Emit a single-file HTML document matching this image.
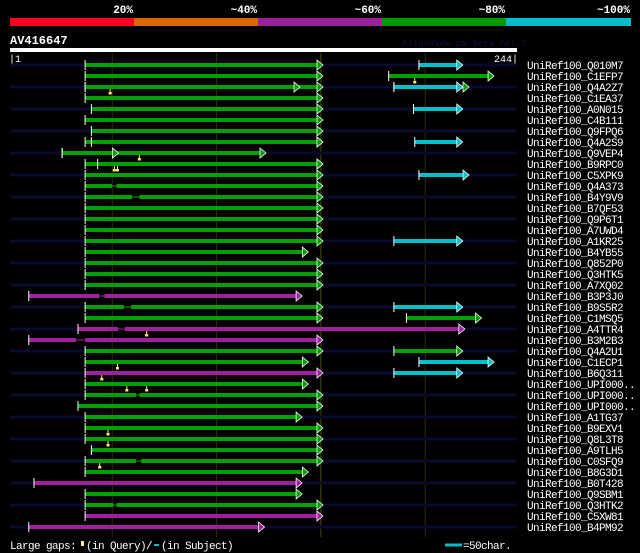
<!DOCTYPE html>
<html><head><meta charset="utf-8"><style>
html,body{margin:0;padding:0;background:#000;width:640px;height:553px;overflow:hidden}
svg{display:block}
text{font-family:"Liberation Mono","DejaVu Sans Mono",monospace}
.lab{letter-spacing:-0.6px}
</style></head><body>
<svg id="chart" width="640" height="553" viewBox="0 0 640 553" xmlns="http://www.w3.org/2000/svg">
<g>
<rect x="10" y="18" width="124" height="8" fill="#ff0022"/>
<rect x="134" y="18" width="124" height="8" fill="#dd6600"/>
<rect x="258" y="18" width="124" height="8" fill="#992299"/>
<rect x="382" y="18" width="124" height="8" fill="#009900"/>
<rect x="506" y="18" width="125" height="8" fill="#00bbcc"/>
<text x="133" y="13" fill="#fff" font-size="11" font-weight="bold" text-anchor="end">20%</text>
<text x="257" y="13" fill="#fff" font-size="11" font-weight="bold" text-anchor="end">~40%</text>
<text x="381" y="13" fill="#fff" font-size="11" font-weight="bold" text-anchor="end">~60%</text>
<text x="505" y="13" fill="#fff" font-size="11" font-weight="bold" text-anchor="end">~80%</text>
<text x="630" y="13" fill="#fff" font-size="11" font-weight="bold" text-anchor="end">~100%</text>
</g>
<text x="10" y="44" fill="#fff" font-size="12" font-weight="bold">AV416647</text>
<text x="402" y="46" fill="#101040" font-size="9">AlignView.pm Beta rel.7</text>
<rect x="10" y="48" width="507" height="4" fill="#fff"/>
<text x="9" y="62" fill="#fff" font-size="10">|1</text>
<text x="518" y="62" fill="#fff" font-size="10" text-anchor="end">244|</text>
<g id="grid"></g><g id="rows"></g>
<g>
<text x="10" y="549" fill="#fff" font-size="11" class="lab">Large gaps:</text>
<rect x="81" y="541" width="3" height="5" fill="#ffee66"/>
<text x="86" y="549" fill="#fff" font-size="11" class="lab">(in Query)/</text>
<line x1="154" y1="545" x2="159" y2="545" stroke="#00bbcc" stroke-width="2"/>
<text x="161" y="549" fill="#fff" font-size="11" class="lab">(in Subject)</text>
<line x1="445" y1="545" x2="462" y2="545" stroke="#00bbcc" stroke-width="3"/>
<text x="463" y="549" fill="#fff" font-size="11" class="lab">=50char.</text>
</g>
</svg>
<script>
const qLen = 244;
const gridTicks = [50,100,150,200];
const labels = ["UniRef100_Q010M7","UniRef100_C1EFP7","UniRef100_Q4A2Z7","UniRef100_C1EA37","UniRef100_A0N015","UniRef100_C4B111","UniRef100_Q9FPQ6","UniRef100_Q4A2S9","UniRef100_Q9VEP4","UniRef100_B9RPC0","UniRef100_C5XPK9","UniRef100_Q4A373","UniRef100_B4Y9V9","UniRef100_B7QF53","UniRef100_Q9P6T1","UniRef100_A7UWD4","UniRef100_A1KR25","UniRef100_B4YB55","UniRef100_Q852P0","UniRef100_Q3HTK5","UniRef100_A7XQ02","UniRef100_B3P3J0","UniRef100_B9S5R2","UniRef100_C1MSQ5","UniRef100_A4TTR4","UniRef100_B3M2B3","UniRef100_Q4A2U1","UniRef100_C1ECP1","UniRef100_B6Q311","UniRef100_UPI000..","UniRef100_UPI000..","UniRef100_UPI000..","UniRef100_A1TG37","UniRef100_B9EXV1","UniRef100_Q8L3T8","UniRef100_A9TLH5","UniRef100_C0SFQ9","UniRef100_B8G3D1","UniRef100_B0T428","UniRef100_Q9SBM1","UniRef100_Q3HTK2","UniRef100_C5XW81","UniRef100_B4PM92"];
// segments: [rowIndex, start, end, colorKey]
const segments = [
[0,37,151,"g"],[0,197,218,"c"],
[1,37,151,"g"],[1,182.5,233,"g"],
[2,37,151,"g"],[2,37,140,"g"],[2,185,221,"g"],[2,185,218,"c"],
[3,37,151,"g"],
[4,40,151,"g"],[4,194.4,218,"c"],
[5,37,151,"g"],
[6,40,151,"g"],
[7,37,151,"g"],[7,40,151,"g"],[7,195,218,"c"],
[8,26,123.7,"g"],[8,26,53,"g"],
[9,37,151,"g"],[9,43,151,"g"],
[10,37,151,"g"],[10,197,221,"c"],
[11,37,151,"g"],[12,37,151,"g"],[13,37,151,"g"],[14,37,151,"g"],[15,37,151,"g"],
[16,37,151,"g"],[16,185,218,"c"],
[17,37,144,"g"],[18,37,151,"g"],[19,37,151,"g"],[20,37,151,"g"],
[21,10,141,"m"],
[22,37,151,"g"],[22,185,218,"c"],
[23,37,151,"g"],[23,191,227,"g"],
[24,33.6,219,"m"],
[25,10,151,"m"],
[26,37,151,"g"],[26,185,218,"g"],
[27,37,144,"g"],[27,197,233,"c"],
[28,37,151,"m"],[28,185,218,"c"],
[29,37,144,"g"],[30,37,151,"g"],[31,33.6,151,"g"],
[32,37,141,"g"],[33,37,151,"g"],[34,37,151,"g"],[35,40,151,"g"],[36,37,151,"g"],
[37,37,144,"g"],[38,12.5,141,"m"],[39,37,141,"g"],[40,37,151,"g"],[41,37,151,"m"],[42,10,123,"m"]
];
// subject gaps: [rowIndex, from, to, colorKey]
const subjGaps = [[11,50,52,"g"],[12,59.5,63,"g"],[21,43.7,46.3,"m"],[22,55.6,59,"g"],[24,52.8,56,"m"],[25,32.6,37,"m"],[30,61.4,63,"g"],[36,61.4,63.8,"g"],[40,50.6,52,"g"]];
// query gaps (markers): [rowIndex, position]
const queryGaps = [[1,195],[2,49],[8,63],[9,51],[9,52.5],[24,66.5],[27,52.5],[28,45],[29,57],[29,66.5],[33,48],[34,48],[36,44]];

const NS="http://www.w3.org/2000/svg";
const colors={g:"#00a000",c:"#00c0cc",m:"#a020a0"};
function xs(c){return 10+(c-1)*507/(qLen-1);}
function ys(i){return 65+i*11;}
function mk(tag,attrs,parent){const e=document.createElementNS(NS,tag);for(const k in attrs)e.setAttribute(k,attrs[k]);parent.appendChild(e);return e;}
const grid=document.getElementById('grid'), rows=document.getElementById('rows');
gridTicks.forEach(t=>{
  const l=mk('line',{x1:xs(t),x2:xs(t),y1:53,y2:537,stroke:t===150?'#4a4a00':'#2e2e00','stroke-width':1},grid);
  
  
});
labels.forEach((lab,i)=>{
  const y=ys(i);
  if(i%2===0){
    const b=mk('line',{x1:10,x2:517,y1:y,y2:y,stroke:'#0a0a30','stroke-width':3},rows);
    
    
  }
  const t=mk('text',{x:527,y:y+4,fill:'#fff','font-size':11,'class':'lab'},rows);
  t.textContent=lab;
  
  
});
segments.forEach(s=>{
  const [r,a,b,ck]=s, y=ys(r), x1=xs(a), x2=xs(b);
  const g=mk('g',{},rows);
  
  
  mk('rect',{x:x1,y:y-2,width:Math.max(0,x2-6-x1),height:4,fill:colors[ck]},g);
  mk('polygon',{points:`${x2-6},${y-5} ${x2},${y} ${x2-6},${y+5}`,fill:colors[ck],stroke:'#fff','stroke-width':0.8},g);
  mk('line',{x1:x1,x2:x1,y1:y-5,y2:y+5,stroke:'#fff','stroke-width':1},g);
});
subjGaps.forEach(s=>{
  const [r,a,b,ck]=s, y=ys(r);
  const e=mk('rect',{x:xs(a),y:y-2,width:xs(b)-xs(a),height:4,fill:'#000'},rows);
  
  
  const l=mk('line',{x1:xs(a),x2:xs(b),y1:y,y2:y,stroke:colors[ck],'stroke-width':1},rows);
  
  
});
queryGaps.forEach(q=>{
  const [r,p]=q, y=ys(r), x=xs(p);
  const e=mk('g',{},rows);
  
  
  mk('line',{x1:x,x2:x,y1:y+2,y2:y+5,stroke:'#ffee66','stroke-width':1},e);
  mk('rect',{x:x-1.5,y:y+5,width:3,height:2.5,fill:'#ffee66'},e);
});
</script>
</body></html>
